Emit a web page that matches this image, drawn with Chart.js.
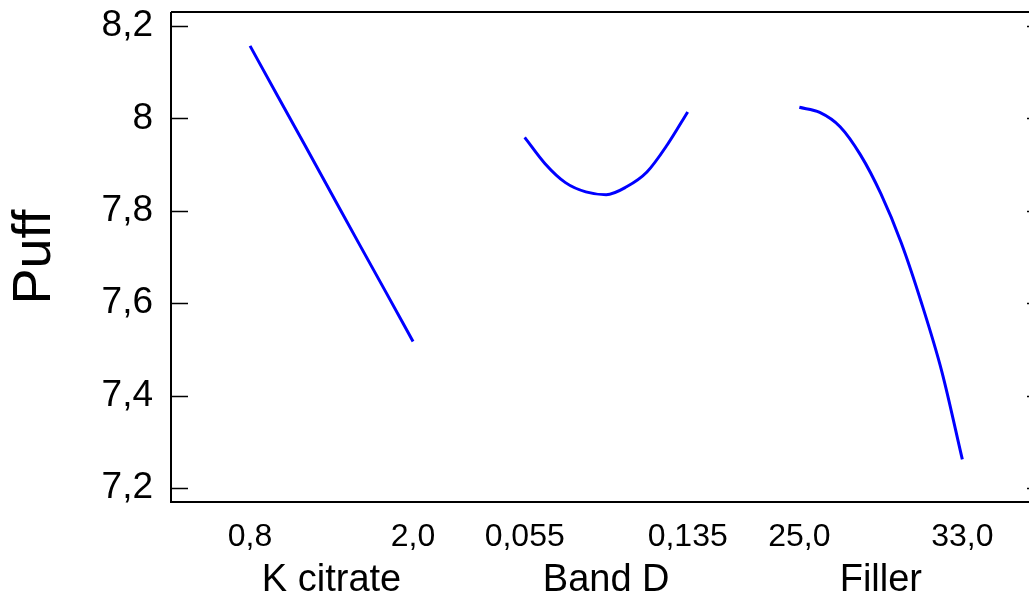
<!DOCTYPE html>
<html>
<head>
<meta charset="utf-8">
<script src="https://cdn.jsdelivr.net/npm/chart.js@4/dist/chart.umd.min.js"></script>
<style>
  html, body { margin: 0; padding: 0; background: #fff; }
  #wrap { width: 1029px; height: 597px; }
</style>
</head>
<body>
<div id="wrap"><canvas id="grafico" width="1029" height="597"></canvas></div>
<script>
// ---------- dados ----------
const factorNames = ["K citrate", "Band D", "Filler"];
const factorLowLabels = ["0,8", "0,055", "25,0"];
const factorHighLabels = ["2,0", "0,135", "33,0"];

const kCitrate = [0.8, 1.0, 1.2, 1.4, 1.6, 1.8, 2.0];
const puffKCitrate = [8.157, 8.05, 7.944, 7.837, 7.73, 7.624, 7.517];

const bandD = [0.055, 0.065, 0.075, 0.085, 0.095, 0.105, 0.115, 0.125, 0.135];
const puffBandD = [7.959, 7.902, 7.861, 7.841, 7.835, 7.852, 7.884, 7.943, 8.014];

const filler = [25, 26, 27, 28, 29, 30, 31, 32, 33];
const puffFiller = [8.024, 8.013, 7.982, 7.921, 7.837, 7.731, 7.6, 7.451, 7.262];

const yTicks = [7.2, 7.4, 7.6, 7.8, 8.0, 8.2];

// ---------- layout dos painéis ----------
const STRIDE = 1.685; // distância entre o início de cada painel (largura do painel = 1)
const X_MIN = -0.485;
const X_MAX = 4.779;

function toPos(panel, xs, x) {
  const lo = xs[0], hi = xs[xs.length - 1];
  return panel * STRIDE + (x - lo) / (hi - lo);
}

function serie(panel, xs, ys) {
  return xs.map((x, i) => ({ x: toPos(panel, xs, x), y: ys[i] }));
}

const linha = {
  borderColor: "#0000ff",
  borderWidth: 3,
  pointRadius: 0,
  fill: false,
  cubicInterpolationMode: "monotone",
};

const datasets = [
  { ...linha, label: factorNames[0], data: serie(0, kCitrate, puffKCitrate) },
  { ...linha, label: factorNames[1], data: serie(1, bandD, puffBandD) },
  { ...linha, label: factorNames[2], data: serie(2, filler, puffFiller) },
];

// moldura + marcas internas
const moldura = {
  id: "moldura",
  afterDraw(chart) {
    const { ctx, chartArea } = chart;
    const y = chart.scales.y;
    ctx.save();
    ctx.strokeStyle = "#000";
    ctx.lineWidth = 2;
    ctx.beginPath();
    ctx.moveTo(chartArea.left, chartArea.top);
    ctx.lineTo(chartArea.right, chartArea.top);
    ctx.moveTo(chartArea.left, chartArea.top);
    ctx.lineTo(chartArea.left, chartArea.bottom);
    ctx.lineTo(chartArea.right, chartArea.bottom);
    ctx.stroke();
    ctx.lineWidth = 1.5;
    ctx.beginPath();
    yTicks.forEach((v) => {
      const py = Math.round(y.getPixelForValue(v)) + 0.5;
      ctx.moveTo(chartArea.left, py);
      ctx.lineTo(chartArea.left + 17, py);
      ctx.moveTo(chartArea.right - 2, py);
      ctx.lineTo(chartArea.right, py);
    });
    ctx.stroke();
    ctx.restore();
  },
};

const fonte = "'Liberation Sans', Arial, sans-serif";

new Chart(document.getElementById("grafico"), {
  type: "line",
  data: { datasets },
  options: {
    responsive: false,
    animation: false,
    layout: { padding: { top: 12, right: 0, left: 0, bottom: 0 } },
    plugins: { legend: { display: false }, tooltip: { enabled: false } },
    scales: {
      x: {
        type: "linear",
        position: "bottom",
        weight: 0,
        min: X_MIN,
        max: X_MAX,
        border: { display: false },
        grid: { display: false, drawTicks: false },
        afterBuildTicks: (scale) => {
          scale.ticks = [0, 1, STRIDE, STRIDE + 1, 2 * STRIDE, 2 * STRIDE + 1].map((v) => ({ value: v }));
        },
        afterFit: (scale) => {
          scale.height = 54;
          scale.paddingLeft = 0;
          scale.paddingRight = 0;
        },
        ticks: {
          autoSkip: false,
          maxRotation: 0,
          padding: 16,
          color: "#000",
          font: { family: fonte, size: 32 },
          callback: (v, i) => (i % 2 === 0 ? factorLowLabels[i / 2] : factorHighLabels[(i - 1) / 2]),
        },
      },
      fatores: {
        type: "linear",
        position: "bottom",
        weight: 1,
        min: X_MIN,
        max: X_MAX,
        border: { display: false },
        grid: { display: false, drawTicks: false },
        afterBuildTicks: (scale) => {
          scale.ticks = [0.5, STRIDE + 0.5, 2 * STRIDE + 0.5].map((v) => ({ value: v }));
        },
        afterFit: (scale) => {
          scale.height = 41;
          scale.paddingLeft = 0;
          scale.paddingRight = 0;
        },
        ticks: {
          autoSkip: false,
          maxRotation: 0,
          padding: 2,
          color: "#000",
          font: { family: fonte, size: 38 },
          callback: (v, i) => factorNames[i],
        },
      },
      y: {
        type: "linear",
        min: 7.1697,
        max: 8.2303,
        border: { display: false },
        grid: { display: false, drawTicks: false },
        afterBuildTicks: (scale) => {
          scale.ticks = yTicks.map((v) => ({ value: v }));
        },
        afterFit: (scale) => {
          scale.width = 171;
          scale.paddingTop = 0;
          scale.paddingBottom = 0;
        },
        ticks: {
          padding: 18,
          color: "#000",
          font: { family: fonte, size: 37 },
          callback: (v) => (v === 8 ? "8" : v.toFixed(1).replace(".", ",")),
        },
        title: {
          display: true,
          text: "Puff",
          color: "#000",
          padding: { top: 8, bottom: 0 },
          font: { family: fonte, size: 54, lineHeight: 1 },
        },
      },
    },
  },
  plugins: [moldura],
});
</script>
</body>
</html>
